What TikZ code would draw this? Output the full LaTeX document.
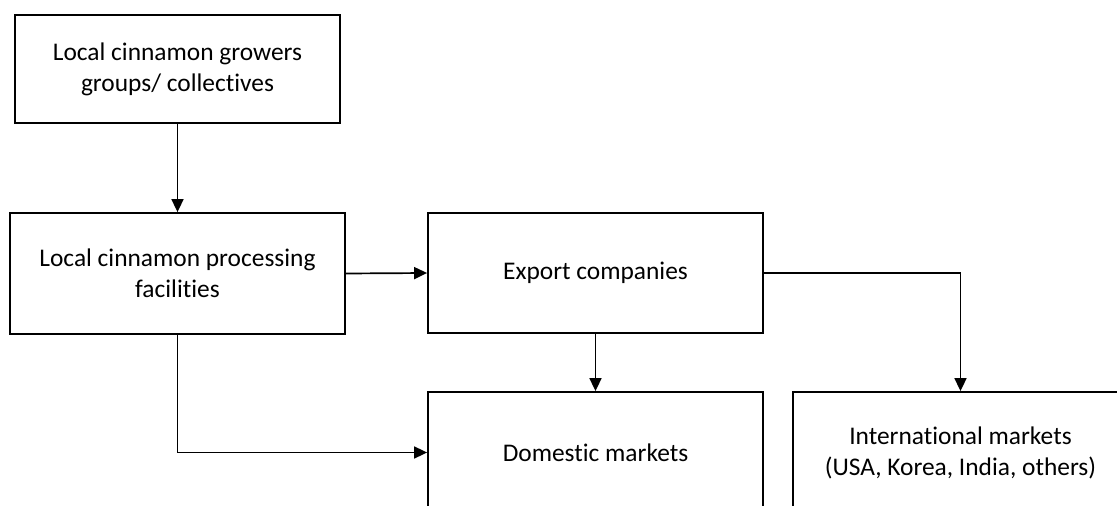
\documentclass[tikz,border=0pt]{standalone}
\usepackage{fontspec}
\setmainfont{Carlito}[Ligatures=NoCommon]
\usetikzlibrary{arrows.meta}
\begin{document}
\begin{tikzpicture}[x=1bp,y=-1bp,
  box/.style={draw=black,line width=1.8bp,minimum width=335bp,minimum height=121bp,
    inner sep=0pt,align=center,font=\fontsize{25.5}{31}\selectfont},
  link/.style={line width=1.7bp,-{Triangle[length=13bp,width=12bp]}}]
\clip (0,0) rectangle (1117,506);
\node[box,minimum width=325bp,minimum height=108bp] (grow) at (177.5,69) {Local cinnamon growers\\groups/ collectives};
\node[box] (proc) at (177.5,273.5) {Local cinnamon processing\\facilities};
\node[box,minimum height=120bp] (exp) at (595.5,273) {Export companies};
\node[box] (dom) at (595.5,452.5) {Domestic markets};
\node[box] (int) at (960.5,452.5) {International markets\\(USA, Korea, India, others)};
\draw[link] (grow.south) -- (proc.north);
\draw[link] (proc.east) -- (exp.west);
\draw[link] (exp.south) -- (dom.north);
\draw[link] (proc.south) |- (dom.west);
\draw[link] (exp.east) -| (int.north);
\end{tikzpicture}
\end{document}
